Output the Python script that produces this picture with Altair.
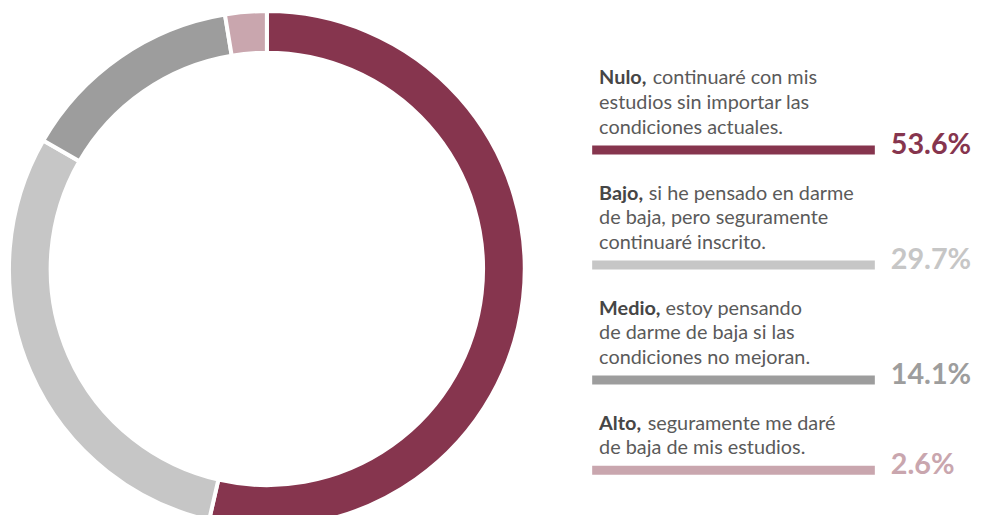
import altair as alt
import pandas as pd

# ---------------- data ----------------
categorias = ["Nulo", "Bajo", "Medio", "Alto"]
porcentajes = [53.6, 29.7, 14.1, 2.6]
etiquetas_pct = ["53.6%", "29.7%", "14.1%", "2.6%"]
negritas = ["Nulo,", "Bajo,", "Medio,", "Alto,"]
lineas = [
    ["continuaré con mis", "estudios sin importar las", "condiciones actuales."],
    ["si he pensado en darme", "de baja, pero seguramente", "continuaré inscrito."],
    ["estoy pensando", "de darme de baja si las", "condiciones no mejoran."],
    ["seguramente me daré", "de baja de mis estudios."],
]

# ---------------- styles / layout ----------------
colores = ["#86354e", "#c6c6c6", "#9d9d9d", "#c9a6ae"]
FONT = "Lato"
W, H = 976, 507
LINE_PX = 25.0
Y_UNITS = H / LINE_PX
FIRST = 3.0          # first baseline, in line units
BLOCK = 4.64         # spacing between legend blocks, in line units
BAR_GAP = 0.64       # bar below last line
PCT_GAP = 0.16       # percentage baseline below bar centre
TEXT_X = 596
bold_dx = {"Nulo": 54, "Bajo": 50, "Medio": 67, "Alto": 49}

donut = pd.DataFrame({"categoria": categorias, "porcentaje": porcentajes,
                      "orden": list(range(len(categorias)))})

filas = []
barras = []
for i, cat in enumerate(categorias):
    for j, texto in enumerate(lineas[i]):
        filas.append({"categoria": cat, "linea": j, "texto": texto,
                      "renglon": FIRST + BLOCK * i + j})
    ultimo = FIRST + BLOCK * i + len(lineas[i]) - 1
    barras.append({"categoria": cat, "negrita": negritas[i], "pct": etiquetas_pct[i],
                   "inicio": FIRST + BLOCK * i,
                   "barra": ultimo + BAR_GAP, "pct_y": ultimo + BAR_GAP + PCT_GAP})
legend_lines = pd.DataFrame(filas)
legend_blocks = pd.DataFrame(barras)

color_scale = alt.Scale(domain=categorias, range=colores)
yscale = alt.Scale(domain=[0, Y_UNITS], reverse=True, nice=False, zero=False)

arc = alt.Chart(donut).mark_arc(
    innerRadius=218, outerRadius=260, stroke="white", strokeWidth=4
).encode(
    theta=alt.Theta("porcentaje:Q", stack=True),
    order=alt.Order("orden:Q"),
    color=alt.Color("categoria:N", scale=color_scale, legend=None),
    x=alt.value(261), y=alt.value(261),
)

bold = alt.Chart(legend_blocks).mark_text(
    font=FONT, fontSize=20, fontWeight="bold", align="left", baseline="alphabetic",
    color="#464646"
).encode(
    x=alt.value(TEXT_X),
    y=alt.Y("inicio:Q", scale=yscale, axis=None),
    text="negrita:N",
)

rest_layers = []
for cat in categorias:
    rest_layers.append(
        alt.Chart(legend_lines).transform_filter(
            (alt.datum.categoria == cat) & (alt.datum.linea == 0)
        ).mark_text(
            font=FONT, fontSize=20, align="left", baseline="alphabetic",
            color="#5a5a5a", dx=bold_dx[cat]
        ).encode(
            x=alt.value(TEXT_X),
            y=alt.Y("renglon:Q", scale=yscale, axis=None),
            text="texto:N",
        )
    )

other_lines = alt.Chart(legend_lines).transform_filter(
    alt.datum.linea > 0
).mark_text(
    font=FONT, fontSize=20, align="left", baseline="alphabetic", color="#5a5a5a"
).encode(
    x=alt.value(TEXT_X),
    y=alt.Y("renglon:Q", scale=yscale, axis=None),
    text="texto:N",
)

bars = alt.Chart(legend_blocks).mark_rule(strokeWidth=9).encode(
    x=alt.value(589), x2=alt.value(874),
    y=alt.Y("barra:Q", scale=yscale, axis=None),
    color=alt.Color("categoria:N", scale=color_scale, legend=None),
)

pct = alt.Chart(legend_blocks).mark_text(
    font=FONT, fontSize=29, fontWeight="bold", align="left", baseline="alphabetic"
).encode(
    x=alt.value(890),
    y=alt.Y("pct_y:Q", scale=yscale, axis=None),
    text="pct:N",
    color=alt.Color("categoria:N", scale=color_scale, legend=None),
)

chart = alt.layer(arc, bold, *rest_layers, other_lines, bars, pct).properties(
    width=W, height=H, padding=0,
    autosize=alt.AutoSizeParams(type="none"),
).configure_view(stroke=None)

chart.save("out.html", embed_options={"renderer": "svg", "actions": False})
